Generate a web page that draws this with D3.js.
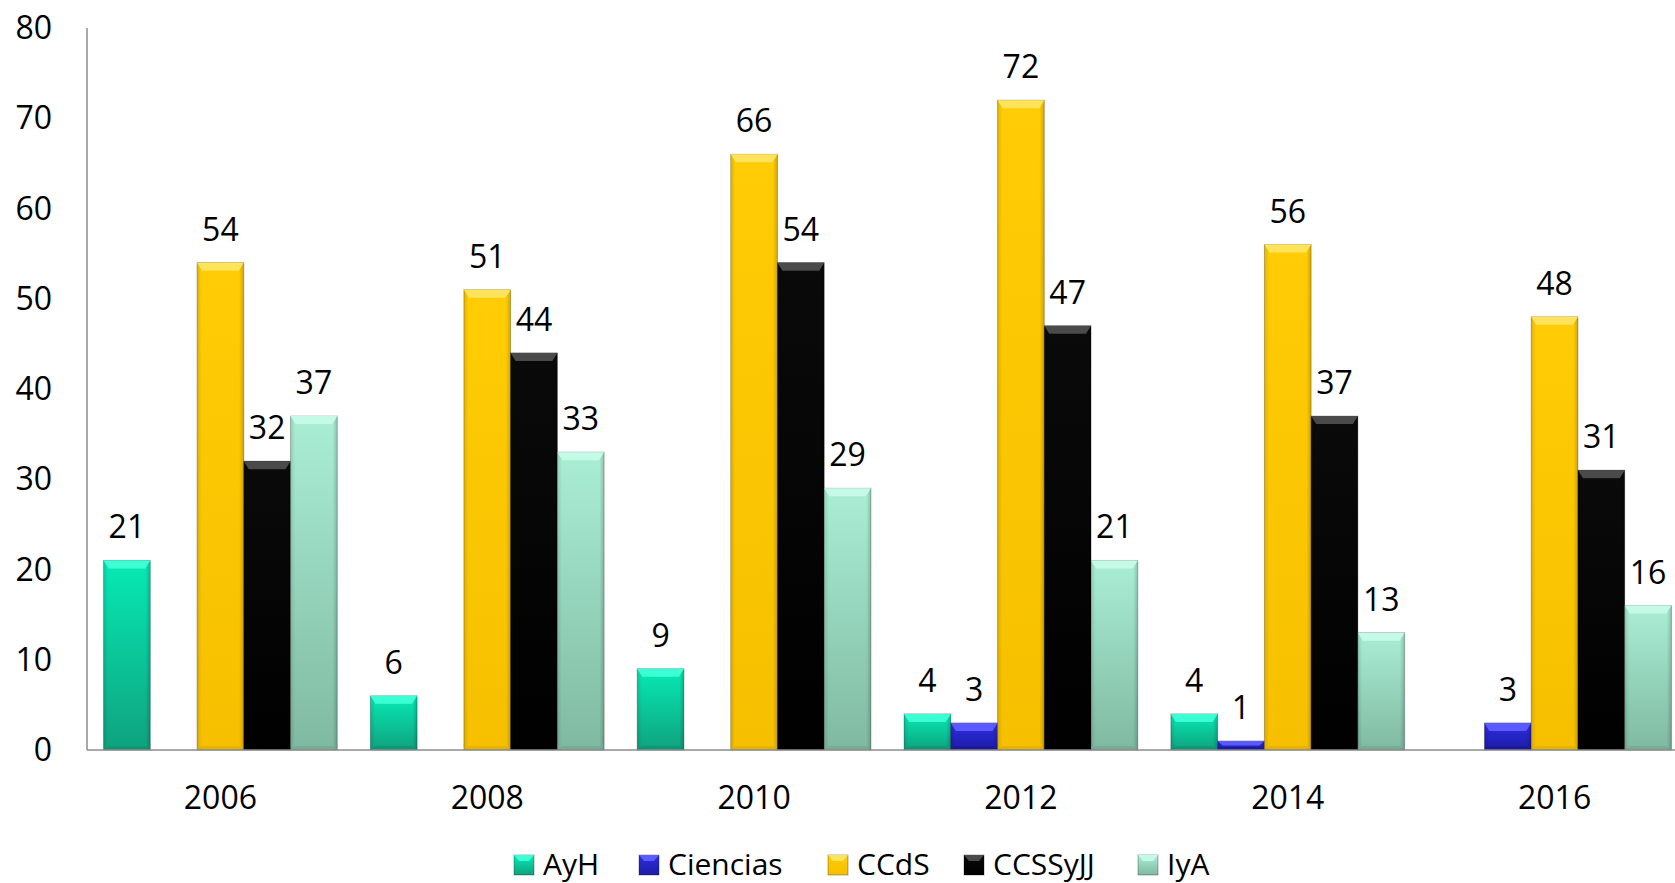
<!DOCTYPE html>
<html>
<head>
<meta charset="utf-8">
<script src="https://cdn.jsdelivr.net/npm/d3@7"></script>
<style>
  body { margin: 0; background: #fff; }
  text { font-family: "Open Sans", sans-serif; fill: #000; }
</style>
</head>
<body>
<script>
// data
let years = ["2006", "2008", "2010", "2012", "2014", "2016"]
let seriesNames = ["AyH", "Ciencias", "CCdS", "CCSSyJJ", "IyA"]
let ayh = [21, 6, 9, 4, 4, null]
let ciencias = [null, null, null, 3, 1, 3]
let ccds = [54, 51, 66, 72, 56, 48]
let ccssyjj = [32, 44, 54, 47, 37, 31]
let iya = [37, 33, 29, 21, 13, 16]
let yTicks = [0, 10, 20, 30, 40, 50, 60, 70, 80]

let values = [ayh, ciencias, ccds, ccssyjj, iya]

// colours: top, bottom, cap
let palette = {
  "AyH":      { top: "#06eab4", bottom: "#0fa27e", cap: "#3cffd6", edge: "#0b8a6a" },
  "Ciencias": { top: "#2d2de0", bottom: "#1c1ca8", cap: "#5a5aff", edge: "#15157e" },
  "CCdS":     { top: "#ffcc05", bottom: "#f6c000", cap: "#ffe35a", edge: "#d9a300" },
  "CCSSyJJ":  { top: "#0a0a0a", bottom: "#000000", cap: "#4a4a4a", edge: "#000000" },
  "IyA":      { top: "#aaeed6", bottom: "#80b9a1", cap: "#c6fae8", edge: "#6e9e8a" }
}

let width = 1675, height = 883
let axisLeft = 87, plotTop = 28, plotBottom = 750

let svg = d3.select("body").append("svg")
  .attr("width", width)
  .attr("height", height)

let defs = svg.append("defs")
seriesNames.forEach((s, i) => {
  let g = defs.append("linearGradient")
    .attr("id", "grad" + i)
    .attr("x1", 0).attr("y1", 0).attr("x2", 0).attr("y2", 1)
  g.append("stop").attr("offset", "0%").attr("stop-color", palette[s].top)
  g.append("stop").attr("offset", "100%").attr("stop-color", palette[s].bottom)
})
// side shading
let side = defs.append("linearGradient").attr("id", "sideShade")
  .attr("x1", 0).attr("y1", 0).attr("x2", 1).attr("y2", 0)
side.append("stop").attr("offset", "0%").attr("stop-color", "#000").attr("stop-opacity", 0.12)
side.append("stop").attr("offset", "10%").attr("stop-color", "#000").attr("stop-opacity", 0)
side.append("stop").attr("offset", "90%").attr("stop-color", "#000").attr("stop-opacity", 0)
side.append("stop").attr("offset", "100%").attr("stop-color", "#000").attr("stop-opacity", 0.18)

// band scale slightly wider than the svg, so the last group touches the right edge
let x0 = d3.scaleBand()
  .domain(years)
  .range([axisLeft, 1688])
  .paddingInner(0.124)
  .paddingOuter(0.062)

let x1 = d3.scaleBand()
  .domain(seriesNames)
  .range([0, x0.bandwidth()])

let y = d3.scaleLinear()
  .domain([0, 80])
  .range([plotBottom, plotTop])

// axes lines
svg.append("line")
  .attr("x1", axisLeft).attr("x2", axisLeft)
  .attr("y1", y(80)).attr("y2", y(0))
  .attr("stroke", "#8c8c8c").attr("stroke-width", 1.5)

svg.append("g")
  .selectAll("text")
  .data(yTicks)
  .enter()
  .append("text")
    .attr("x", 52)
    .attr("y", d => y(d) + 11)
    .attr("text-anchor", "end")
    .attr("font-size", 32)
    .text(d => d)

svg.append("g")
  .selectAll("text")
  .data(years)
  .enter()
  .append("text")
    .attr("x", d => x0(d) + x0.bandwidth() / 2)
    .attr("y", y(0) + 59)
    .attr("text-anchor", "middle")
    .attr("font-size", 32)
    .text(d => d)

// bars
let bars = []
years.forEach((yr, j) => {
  seriesNames.forEach((s, i) => {
    if (values[i][j] != null) bars.push({ year: yr, series: s, idx: i, value: values[i][j] })
  })
})

let barG = svg.append("g").attr("class", "bars")
  .selectAll("g")
  .data(bars)
  .enter()
  .append("g")

let bx = d => x0(d.year) + x1(d.series)
let bw = x1.bandwidth()

barG.append("rect")
  .attr("x", d => bx(d))
  .attr("y", d => y(d.value))
  .attr("width", bw)
  .attr("height", d => y(0) - y(d.value))
  .attr("fill", d => "url(#grad" + d.idx + ")")
  .attr("stroke", "rgba(0,0,0,0.25)")
  .attr("stroke-width", 1)

barG.append("rect")
  .attr("x", d => bx(d))
  .attr("y", d => y(d.value))
  .attr("width", bw)
  .attr("height", d => y(0) - y(d.value))
  .attr("fill", "url(#sideShade)")

// top bevel
barG.append("polygon")
  .attr("points", d => {
    let x = bx(d), t = y(d.value), h = y(0) - t
    let b = Math.min(8, h / 2)
    return [[x, t], [x + bw, t], [x + bw - 5, t + b], [x + 5, t + b]].join(" ")
  })
  .attr("fill", d => palette[d.series].cap)

// bottom bevel
barG.append("polygon")
  .attr("points", d => {
    let x = bx(d), t = y(d.value), h = y(0) - t
    let b = Math.min(4, h / 3)
    return [[x, y(0)], [x + bw, y(0)], [x + bw - 5, y(0) - b], [x + 5, y(0) - b]].join(" ")
  })
  .attr("fill", d => palette[d.series].edge)
  .attr("opacity", 0.5)

// value labels
barG.append("text")
  .attr("x", d => bx(d) + bw / 2)
  .attr("y", d => y(d.value) - 22)
  .attr("text-anchor", "middle")
  .attr("font-size", 32)
  .text(d => d.value)

// baseline
svg.append("line")
  .attr("x1", axisLeft).attr("x2", width)
  .attr("y1", y(0)).attr("y2", y(0))
  .attr("stroke", "#8c8c8c").attr("stroke-width", 1.5)

// legend
let legendX = [514, 639, 828, 964, 1138]
let legend = svg.append("g")
  .selectAll("g")
  .data(seriesNames)
  .enter()
  .append("g")
    .attr("transform", (d, i) => `translate(${legendX[i]},855)`)

legend.append("rect")
  .attr("width", 20).attr("height", 20)
  .attr("fill", (d, i) => "url(#grad" + i + ")")
  .attr("stroke", "rgba(0,0,0,0.3)")

legend.append("polygon")
  .attr("points", "0,0 20,0 15,6 5,6")
  .attr("fill", d => palette[d].cap)

legend.append("text")
  .attr("x", 29)
  .attr("y", 20)
  .attr("font-size", 30)
  .text(d => d)
</script>
</body>
</html>
